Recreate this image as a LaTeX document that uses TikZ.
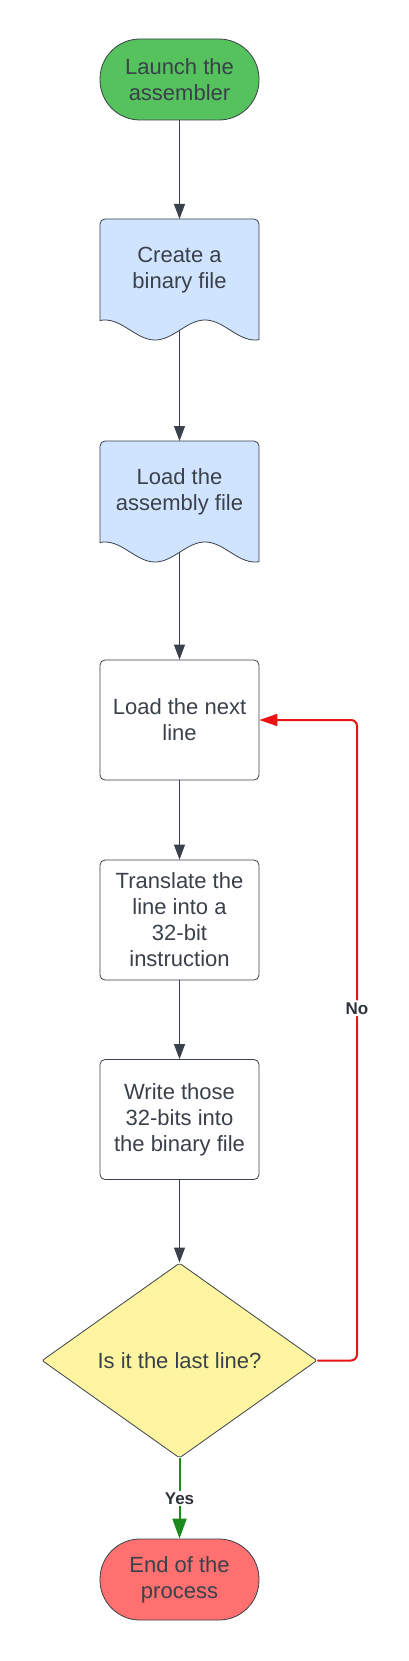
\documentclass[tikz,border=0pt]{standalone}
\usepackage{fontspec}
\setmainfont{Liberation Sans}
\usetikzlibrary{arrows.meta, shapes.geometric}

\definecolor{txtgray}{HTML}{3A414A}
\definecolor{startgreen}{HTML}{55C25D}
\definecolor{docblue}{HTML}{D1E4FF}
\definecolor{decyellow}{HTML}{FFF5A1}
\definecolor{endred}{HTML}{FF7070}
\definecolor{nored}{HTML}{E81313}
\definecolor{yesgreen}{HTML}{1A8A1A}

\begin{document}
\begin{tikzpicture}[
    x=1pt, y=-1pt,
    >={Triangle[length=15pt, width=11pt]},
    font=\fontsize{22}{26}\selectfont,
    terminal/.style={draw=txtgray, line width=0.8pt, rounded corners=40pt, minimum width=159pt, minimum height=81pt, text=txtgray, align=center},
    process/.style={draw=txtgray, fill=white, line width=0.8pt, rounded corners=5pt, minimum width=159pt, minimum height=120pt, text=txtgray, align=center},
    doctext/.style={text=txtgray, align=center},
    docshape/.style={draw=txtgray, fill=docblue, line width=0.8pt},
    decision/.style={diamond, draw=txtgray, fill=decyellow, line width=0.8pt, rounded corners=2pt, inner sep=0pt, minimum width=275pt, minimum height=195pt, text=txtgray},
    flow/.style={->, line width=1pt, color=txtgray},
    noline/.style={->, line width=2pt, color=nored, rounded corners=6pt, >={Triangle[length=18pt, width=12pt]}},
    yesline/.style={->, line width=2pt, color=yesgreen, >={Triangle[length=20pt, width=14pt]}},
    lbl/.style={fill=white, text=txtgray!80!black, font=\bfseries\fontsize{17}{20}\selectfont, inner sep=2pt}
]

    % Page frame
    \useasboundingbox (0,0) rectangle (409,1661);

    % Start
    \node[terminal, fill=startgreen] (launch) at (179.5,79.5) {Launch the\\assembler};

    % Document shapes (wavy bottom)
    \filldraw[docshape] (100,321) [rounded corners=5pt] -- (100,219) -- (259,219) [sharp corners] -- (259,340)
        -- plot[domain=259:100, samples=60, smooth] (\x, {330 - 10*sin(3.6*(\x-180))}) -- cycle;
    \node[doctext] (create) at (179.5,270) {Create a\\binary file};
    \coordinate (createtop) at (179.5,219);
    \coordinate (createbot) at (179.5,330);

    \filldraw[docshape] (100,543) [rounded corners=5pt] -- (100,441) -- (259,441) [sharp corners] -- (259,562)
        -- plot[domain=259:100, samples=60, smooth] (\x, {552 - 10*sin(3.6*(\x-180))}) -- cycle;
    \node[doctext] (loadasm) at (179.5,492) {Load the\\assembly file};
    \coordinate (loadasmtop) at (179.5,441);
    \coordinate (loadasmbot) at (179.5,552);

    % Loop body
    \node[process] (loadnext) at (179.5,720) {Load the next\\line};
    \node[process] (translate) at (179.5,920) {Translate the\\line into a\\32-bit\\instruction};
    \node[process] (write) at (179.5,1119.5) {Write those\\32-bits into\\the binary file};

    % Decision
    \node[decision] (decide) at (179.5,1360.5) {Is it the last line?};

    % End
    \node[terminal, fill=endred] (finish) at (179.5,1579.5) {End of the\\process};

    % Connectors
    \draw[flow] (launch) -- (createtop);
    \draw[flow] (createbot) -- (loadasmtop);
    \draw[flow] (loadasmbot) -- (loadnext);
    \draw[flow] (loadnext) -- (translate);
    \draw[flow] (translate) -- (write);
    \draw[flow] (write) -- (decide);

    % No: back to the next line
    \coordinate (noturn) at (357,1360.5);
    \draw[noline] (decide.east) -- (noturn) |- node[lbl, pos=0.275] {No} (loadnext.east);

    % Yes: done
    \draw[yesline] (decide.south) -- node[lbl] {Yes} (finish.north);

\end{tikzpicture}
\end{document}
